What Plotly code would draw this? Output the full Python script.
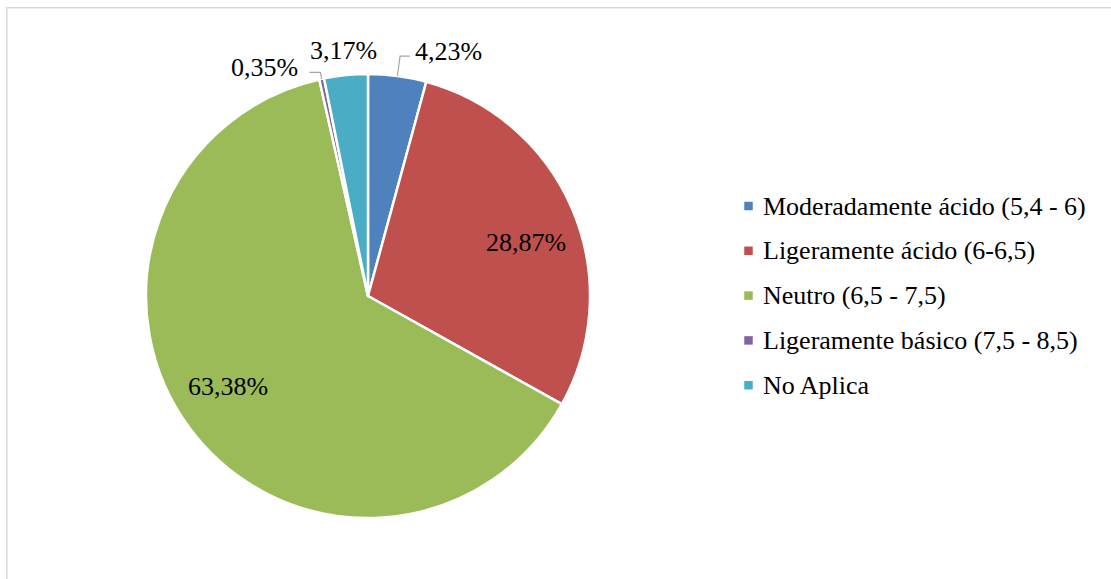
import math
import plotly.graph_objects as go

# ---- data ----
categories = [
    "Moderadamente ácido (5,4 - 6)",
    "Ligeramente ácido (6-6,5)",
    "Neutro (6,5 - 7,5)",
    "Ligeramente básico (7,5 - 8,5)",
    "No Aplica",
]
values = [4.23, 28.87, 63.38, 0.35, 3.17]
colors = ["#4F81BD", "#C0504D", "#9BBB59", "#8064A2", "#4BACC6"]
label_modes = ["elbow_right", "inside", "inside", "elbow_left", "outside"]

# ---- layout constants (pixels) ----
W, H = 1111, 579
CX, CY, R = 368, 296, 222
FONT = "Liberation Serif"
FS = 26
LINE_COLOR = "#A6A6A6"


def px(x):
    return x / W


def py(y):
    return 1 - y / H


fig = go.Figure()
fig.add_trace(go.Pie(
    labels=categories,
    values=values,
    sort=False,
    direction="clockwise",
    rotation=0,
    marker=dict(colors=colors, line=dict(color="white", width=2.5)),
    textinfo="none",
    hoverinfo="label+percent",
    showlegend=False,
    domain=dict(x=[px(CX - R), px(CX + R)], y=[py(CY + R), py(CY - R)]),
))

annotations = []
shapes = []

total = sum(values)
cum = 0.0
for v, mode in zip(values, label_modes):
    frac_mid = (cum + v / 2) / total
    cum += v
    theta = 2 * math.pi * frac_mid
    sx, sy = math.sin(theta), -math.cos(theta)
    text = f"{v:.2f}".replace(".", ",") + "%"
    if mode == "inside":
        th = theta + math.radians(4)
        r = 0.75 * R
        x, y = CX + r * math.sin(th), CY - r * math.cos(th)
        annotations.append(dict(x=px(x), y=py(y), xref="paper", yref="paper",
                                text=text, showarrow=False, xanchor="center",
                                yanchor="middle", font=dict(family=FONT, size=FS, color="black")))
    elif mode == "outside":
        r = 1.11 * R
        x, y = CX + r * sx, CY + r * sy
        annotations.append(dict(x=px(x), y=py(y), xref="paper", yref="paper",
                                text=text, showarrow=False, xanchor="center",
                                yanchor="middle", font=dict(family=FONT, size=FS, color="black")))
    else:
        right = mode == "elbow_right"
        r0 = 1.0 * R
        r1 = (1.09 if right else 1.03) * R
        x0, y0 = CX + r0 * sx, CY + r0 * sy
        x1, y1 = CX + r1 * sx, CY + r1 * sy
        x2 = x1 + (10 if right else -11)
        path = f"M {px(x0)},{py(y0)} L {px(x1)},{py(y1)} L {px(x2)},{py(y1)}"
        shapes.append(dict(type="path", xref="paper", yref="paper", path=path,
                           line=dict(color=LINE_COLOR, width=1.2)))
        tx = x2 + (3 if right else -9)
        annotations.append(dict(x=px(tx), y=py(y1 - 5), xref="paper", yref="paper",
                                text=text, showarrow=False,
                                xanchor="left" if right else "right",
                                yanchor="middle",
                                font=dict(family=FONT, size=FS, color="black")))

# ---- custom legend ----
LX, LY0, LDY, MS = 748.5, 206, 44.8, 8.5
for i, (cat, col) in enumerate(zip(categories, colors)):
    yc = LY0 + i * LDY
    shapes.append(dict(type="rect", xref="paper", yref="paper",
                       x0=px(LX - MS / 2), x1=px(LX + MS / 2),
                       y0=py(yc + MS / 2), y1=py(yc - MS / 2),
                       fillcolor=col, line=dict(width=0)))
    annotations.append(dict(x=px(761), y=py(yc), xref="paper", yref="paper",
                            text=cat, showarrow=False, xanchor="left", yanchor="middle",
                            font=dict(family=FONT, size=FS, color="black")))

# ---- chart border (right and bottom edges lie outside the picture) ----
shapes.append(dict(type="rect", xref="paper", yref="paper",
                   x0=px(6.75), x1=px(W + 30), y0=py(H + 30), y1=py(7.75),
                   line=dict(color="#D9D9D9", width=1.5), fillcolor="rgba(0,0,0,0)"))

fig.update_layout(
    width=W, height=H,
    margin=dict(l=0, r=0, t=0, b=0),
    paper_bgcolor="white",
    plot_bgcolor="white",
    font=dict(family=FONT, size=FS, color="black"),
    annotations=annotations,
    shapes=shapes,
    showlegend=False,
)

fig.write_html(
    "out.html",
    config={"displayModeBar": False},
    post_script="document.body.style.margin='0';document.body.style.overflow='hidden';",
)
